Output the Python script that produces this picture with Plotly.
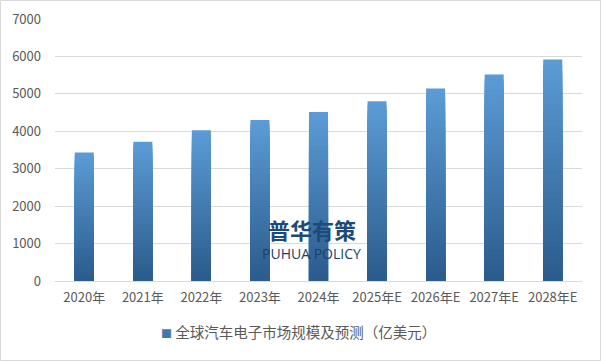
import plotly.graph_objects as go

categories = ["2020年", "2021年", "2022年", "2023年", "2024年", "2025年E", "2026年E", "2027年E", "2028年E"]
values = [3430, 3720, 4030, 4300, 4515, 4800, 5145, 5520, 5920]
y_ticks = [0, 1000, 2000, 3000, 4000, 5000, 6000, 7000]
series_name = "全球汽车电子市场规模及预测（亿美元）"

W, H = 601, 361
ML, MR, MT, MB = 55, 19, 19, 80
PW, PH = W - ML - MR, H - MT - MB

top_rgb = (91, 155, 213)
bot_rgb = (42, 90, 138)
N = 40

fig = go.Figure()
for k in range(N):
    f = k / N
    c = tuple(round(top_rgb[i] + (bot_rgb[i] - top_rgb[i]) * f) for i in range(3))
    fig.add_trace(go.Bar(
        x=categories,
        y=[v * (1 - f) for v in values],
        marker=dict(color="rgba(%d,%d,%d,0.999)" % c, line=dict(width=0)),
        name=series_name,
        showlegend=False,
        hoverinfo="skip" if k else "x+y",
    ))

font_cjk = "Noto Sans CJK SC, Microsoft YaHei, sans-serif"

fig.update_layout(
    width=W, height=H,
    margin=dict(l=ML, r=MR, t=MT, b=MB, autoexpand=False),
    paper_bgcolor="white", plot_bgcolor="white",
    barmode="overlay", bargap=0.675,
    font=dict(family=font_cjk, size=13, color="#595959"),
    showlegend=False,
    xaxis=dict(type="category", showgrid=False, showline=True, linecolor="#d9d9d9",
               linewidth=1, ticks="", tickfont=dict(size=13, color="#595959"),
               ticklabelstandoff=4, fixedrange=True, automargin=False),
    yaxis=dict(range=[0, 7000], tickvals=y_ticks, showgrid=True, gridcolor="#d9d9d9",
               gridwidth=1, zeroline=False, showline=False, ticks="",
               tickfont=dict(size=13, color="#595959"), ticklabelstandoff=13,
               fixedrange=True, automargin=False),
    annotations=[
        dict(text="<b>普华有策</b>", xref="paper", yref="paper", x=0.487, y=0.197,
             xanchor="center", yanchor="middle",
             showarrow=False, font=dict(family=font_cjk, size=22, color="#1d4a78")),
        dict(text="PUHUA POLICY", xref="paper", yref="paper", x=0.487, y=0.105,
             xanchor="center", yanchor="middle",
             showarrow=False, font=dict(family="Open Sans, sans-serif", size=14, color="#173f6b")),
        dict(text="<span style='color:#4178b0;font-size:11px'>■</span> " + series_name,
             xref="paper", yref="paper", x=(298 - ML) / PW, y=-(331 - MT - PH) / PH,
             xanchor="center", yanchor="middle", showarrow=False,
             font=dict(family=font_cjk, size=14.5, color="#595959")),
    ],
    shapes=[dict(type="rect", xref="paper", yref="paper",
                 x0=-(ML - 0.5) / PW, x1=1 + (MR - 0.5) / PW,
                 y0=-(MB - 0.5) / PH, y1=1 + (MT - 0.5) / PH,
                 line=dict(color="#d9d9d9", width=1), fillcolor="rgba(0,0,0,0)",
                 layer="above")],
)

fig.write_html("out.html", config={"displayModeBar": False},
               post_script="document.body.style.margin='0';document.body.style.overflow='hidden';")
